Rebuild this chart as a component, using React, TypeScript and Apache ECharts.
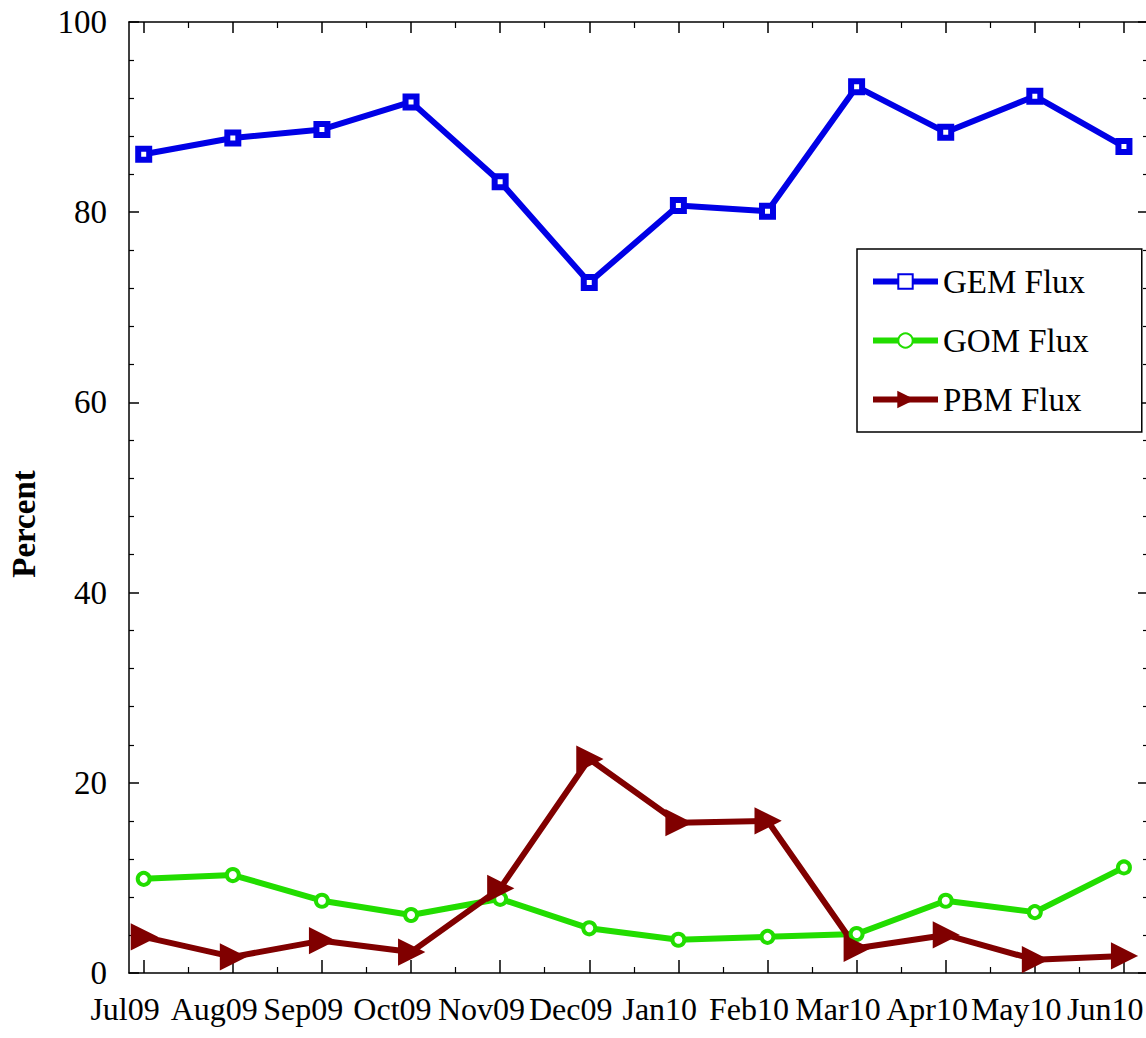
import React, { useEffect, useRef } from "react";
import * as echarts from "echarts";

// Monthly flux shares (%)
const months = ["Jul09", "Aug09", "Sep09", "Oct09", "Nov09", "Dec09", "Jan10", "Feb10", "Mar10", "Apr10", "May10", "Jun10"];
const gemFlux = [86.1, 87.8, 88.7, 91.6, 83.2, 72.6, 80.7, 80.1, 93.2, 88.4, 92.2, 86.9];
const gomFlux = [9.9, 10.3, 7.6, 6.1, 7.8, 4.7, 3.5, 3.8, 4.1, 7.6, 6.4, 11.1];
const pbmFlux = [3.8, 1.7, 3.4, 2.2, 8.9, 22.5, 15.8, 16.0, 2.6, 4.0, 1.4, 1.8];

const FONT = "'Liberation Serif', 'Times New Roman', serif";
const X_MIN = -0.165;
const X_MAX = 11.27;

const majorX = months.map((_, i) => i);
const minorX = months.slice(1).map((_, i) => i + 0.5);
const labelX = months.map((_, i) => i - 0.164);

const toPairs = (vals: number[]) => vals.map((v, i) => [i, v]);

export default function App() {
  const ref = useRef<HTMLDivElement>(null);

  useEffect(() => {
    if (!ref.current) return;
    const chart = echarts.init(ref.current, null, { renderer: "svg" });
    const axisLine = { show: true, onZero: false, lineStyle: { color: "#000", width: 1.5 } };
    const baseX = { type: "value", min: X_MIN, max: X_MAX, splitLine: { show: false } };
    const baseY = {
      type: "value",
      min: 0,
      max: 100,
      interval: 20,
      splitLine: { show: false },
      axisLine,
      axisTick: { show: true, inside: true, length: 10, lineStyle: { color: "#000", width: 1.5 } },
      minorTick: { show: true, splitNumber: 5, length: 5, lineStyle: { color: "#000", width: 1.2 } },
      minorSplitLine: { show: false },
    };

    chart.setOption({
      animation: false,
      backgroundColor: "#fff",
      grid: { left: 129, top: 22, width: 1019, height: 951, containLabel: false },
      graphic: [
        {
          type: "text",
          x: 24,
          y: 524,
          rotation: Math.PI / 2,
          style: {
            text: "Percent",
            fontFamily: FONT,
            fontSize: 33,
            fontWeight: "bold",
            fill: "#000",
            align: "center",
            verticalAlign: "middle",
          },
        },
      ],
      legend: {
        orient: "vertical",
        left: 857,
        top: 249,
        backgroundColor: "#fff",
        borderColor: "#000",
        borderWidth: 1.5,
        borderRadius: 0,
        padding: [16, 53, 16, 13],
        itemGap: 26,
        itemWidth: 65,
        itemHeight: 18,
        lineStyle: { width: 6 },
        textStyle: { fontFamily: FONT, fontSize: 33, color: "#000" },
        data: ["GEM Flux", "GOM Flux", "PBM Flux"],
      },
      xAxis: [
        {
          ...baseX,
          position: "bottom",
          axisLine,
          axisTick: { show: true, inside: true, length: 13, customValues: majorX, lineStyle: { color: "#000", width: 1.5 } },
          axisLabel: {
            show: true,
            customValues: labelX,
            formatter: (v: number) => months[Math.round(v)] ?? "",
            margin: 20,
            padding: [0, 8, 0, 0],
            fontFamily: FONT,
            fontSize: 32,
            color: "#000",
          },
        },
        {
          ...baseX,
          position: "bottom",
          axisLine: { show: false, onZero: false },
          axisTick: { show: true, inside: true, length: 6, customValues: minorX, lineStyle: { color: "#000", width: 1.2 } },
          axisLabel: { show: false },
        },
        {
          ...baseX,
          position: "top",
          axisLine,
          axisTick: { show: true, inside: true, length: 11, customValues: majorX, lineStyle: { color: "#000", width: 1.5 } },
          axisLabel: { show: false },
        },
        {
          ...baseX,
          position: "top",
          axisLine: { show: false, onZero: false },
          axisTick: { show: true, inside: true, length: 6, customValues: minorX, lineStyle: { color: "#000", width: 1.2 } },
          axisLabel: { show: false },
        },
      ],
      yAxis: [
        {
          ...baseY,
          position: "left",
          axisLabel: { show: true, margin: 22, fontFamily: FONT, fontSize: 33, color: "#000" },
        },
        {
          ...baseY,
          position: "right",
          axisLabel: { show: false },
        },
      ],
      series: [
        {
          name: "GEM Flux",
          type: "line",
          data: toPairs(gemFlux),
          symbol: "rect",
          symbolSize: 11,
          lineStyle: { color: "#0000e6", width: 6 },
          itemStyle: { color: "#fff", borderColor: "#0000e6", borderWidth: 6 },
        },
        {
          name: "GOM Flux",
          type: "line",
          data: toPairs(gomFlux),
          symbol: "circle",
          symbolSize: 12,
          lineStyle: { color: "#22dd00", width: 6 },
          itemStyle: { color: "#fff", borderColor: "#22dd00", borderWidth: 4 },
        },
        {
          name: "PBM Flux",
          type: "line",
          data: toPairs(pbmFlux),
          symbol: "triangle",
          symbolRotate: -90,
          symbolSize: 24,
          lineStyle: { color: "#800000", width: 6 },
          itemStyle: { color: "#800000", borderColor: "#800000", borderWidth: 2 },
        },
      ],
    });
    return () => chart.dispose();
  }, []);

  return (
    <div style={{ position: "fixed", left: 0, top: 0, width: 1146, height: 1038, overflow: "hidden" }}>
      <div ref={ref} style={{ width: 1160, height: 1038 }} />
    </div>
  );
}
